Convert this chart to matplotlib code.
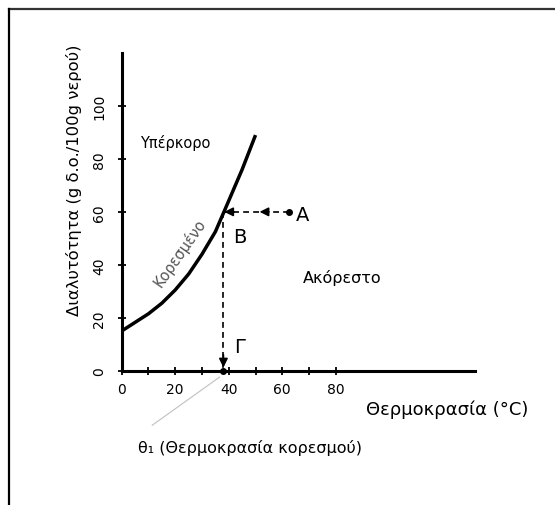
import matplotlib
matplotlib.use('Agg')
import matplotlib.pyplot as plt
from matplotlib.lines import Line2D

plt.rcParams['font.family'] = ['DejaVu Sans']

# solubility curve
temps = [0, 10, 15, 20, 25, 30, 35, 38, 45, 50]
solub = [15, 21.5, 25.5, 30.5, 36.5, 44, 52.5, 59.5, 76, 89]

point_a = (62.5, 60)      # unsaturated solution A
point_b = (38, 60)        # on the curve (B)
theta1 = 38               # saturation temperature

xticks_major = [0, 20, 40, 60, 80]
xticks_minor = [10, 30, 50, 70]
yticks = [0, 20, 40, 60, 80, 100]

fig = plt.figure(figsize=(5.55, 5.06), dpi=100)
ax = fig.add_axes([121.7 / 555, (506 - 371.7) / 506, (475 - 121.7) / 555, (371.7 - 54) / 506])
ax.set_xlim(0, 132)
ax.set_ylim(0, 120)

for s in ['top', 'right']:
    ax.spines[s].set_visible(False)
for s in ['left', 'bottom']:
    ax.spines[s].set_linewidth(2.2)

ax.set_xticks(xticks_major)
ax.set_xticks(xticks_minor, minor=True)
ax.set_yticks(yticks)
ax.tick_params(which='both', direction='inout', length=6, width=1.3, labelsize=10)
ax.tick_params(axis='x', pad=5)
ax.tick_params(axis='y', pad=8)
for lab in ax.get_yticklabels():
    lab.set_rotation(90)
    lab.set_va('center')

# curve
ax.plot(temps, solub, color='black', lw=2.5, solid_capstyle='butt', solid_joinstyle='round')

# dashed paths
ax.plot([point_a[0], point_b[0]], [point_a[1], point_b[1]], color='black', lw=1.2, ls=(0, (3.5, 2.5)))
ax.plot([theta1, theta1], [point_b[1], 0], color='black', lw=1.2, ls=(0, (3.5, 2.5)))
ax.plot(*point_a, 'o', color='black', ms=4)
ax.plot(theta1, 0, 'o', color='black', ms=4, clip_on=False, zorder=5)

arr = dict(arrowstyle='-|>', color='black', lw=1.2, mutation_scale=13, shrinkA=0, shrinkB=0)
ax.annotate('', xy=(51.5, 60), xytext=(55, 60), arrowprops=arr)
ax.annotate('', xy=(38.3, 60), xytext=(42, 60), arrowprops=arr)
ax.annotate('', xy=(theta1, 1.2), xytext=(theta1, 6), arrowprops=arr)

# texts
ax.text(20, 86.3, 'Υπέρκορο', fontsize=10.5, ha='center', va='center')
ax.text(82.4, 35.5, 'Ακόρεστο', fontsize=11.5, ha='center', va='center')
ax.text(21.8, 44.7, 'Κορεσμένο', fontsize=10.5, ha='center', va='center', rotation=55, color='#555555')
ax.text(67.7, 58.9, 'A', fontsize=14, ha='center', va='center')
ax.text(44.2, 50.6, 'B', fontsize=14, ha='center', va='center')
ax.text(44.2, 9.0, 'Γ', fontsize=14, ha='center', va='center')

ax.text(121.6, -14.3, 'Θερμοκρασία (°C)', fontsize=13, ha='center', va='center', clip_on=False)
ax.text(-17.7, 72.3, 'Διαλυτότητα (g δ.ο./100g νερού)', fontsize=11.8, rotation=90,
        ha='center', va='center', clip_on=False)
ax.text(47.8, -28.8, 'θ₁ (Θερμοκρασία κορεσμού)', fontsize=11.5, ha='center', va='center', clip_on=False)
ax.plot([11.4, 36.6], [-20.6, -2.4], color='#c0c0c0', lw=0.8, clip_on=False)

# frame of the original picture
fig.add_artist(Line2D([8.7 / 555, 1], [1 - 9.5 / 506, 1 - 9.5 / 506], color='#333333', lw=1.6))
fig.add_artist(Line2D([8.7 / 555, 8.7 / 555], [0, 1 - 9.5 / 506], color='black', lw=1.6))

fig.savefig('out.png', dpi=100)
